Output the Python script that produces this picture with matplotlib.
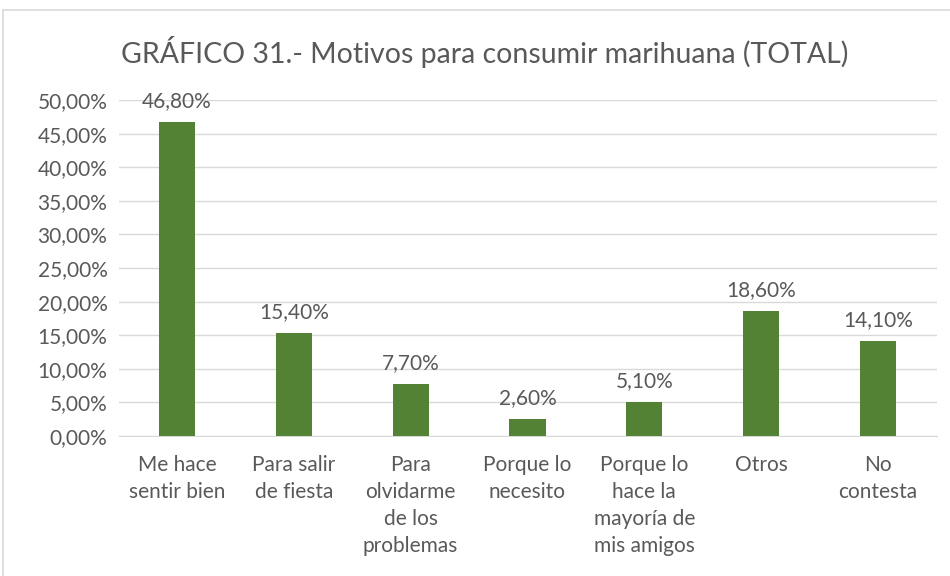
import matplotlib.pyplot as plt
from matplotlib.patches import Rectangle
from matplotlib.ticker import FuncFormatter

categorias = ['Me hace\nsentir bien', 'Para salir\nde fiesta', 'Para\nolvidarme\nde los\nproblemas',
              'Porque lo\nnecesito', 'Porque lo\nhace la\nmayoría de\nmis amigos', 'Otros', 'No\ncontesta']
valores = [46.8, 15.4, 7.7, 2.6, 5.1, 18.6, 14.1]
ticks = [0, 5, 10, 15, 20, 25, 30, 35, 40, 45, 50]

plt.rcParams['font.family'] = ['Lato', 'DejaVu Sans']
gris = '#595959'
verde = '#548235'

fig = plt.figure(figsize=(9.5, 5.76), dpi=100)
fig.patches.append(Rectangle((3 / 950, -0.01), 1.0, 1 - 10 / 576 + 0.01, transform=fig.transFigure,
                             fill=False, edgecolor='#d9d9d9', linewidth=1.2))
ax = fig.add_axes([118.5 / 950, 1 - 436 / 576, 818 / 950, 336 / 576])

x = range(len(categorias))
ax.bar(x, valores, width=0.31, color=verde, zorder=3)
for i, v in zip(x, valores):
    ax.text(i, v + 1.6, f'{v:.2f}%'.replace('.', ','), ha='center', va='bottom',
            fontsize=15, color=gris)

ax.set_xlim(-0.5, len(categorias) - 0.5)
ax.set_ylim(0, 50)
ax.set_yticks(ticks)
ax.yaxis.set_major_formatter(FuncFormatter(lambda v, p: f'{v:.2f}%'.replace('.', ',')))
ax.set_xticks(list(x))
ax.set_xticklabels(categorias, linespacing=1.42)
ax.tick_params(axis='both', length=0, labelsize=15, colors=gris)
ax.tick_params(axis='x', pad=14)
ax.tick_params(axis='y', pad=8)
ax.grid(axis='y', color='#d9d9d9', linewidth=1, zorder=0)
for s in ['top', 'right', 'left']:
    ax.spines[s].set_visible(False)
ax.spines['bottom'].set_color('#d9d9d9')

fig.text(485 / 950, 1 - 52 / 576, 'GRÁFICO 31.- Motivos para consumir marihuana (TOTAL)',
         ha='center', va='center', fontsize=20.5, color=gris)

fig.savefig('out.png', dpi=100)
